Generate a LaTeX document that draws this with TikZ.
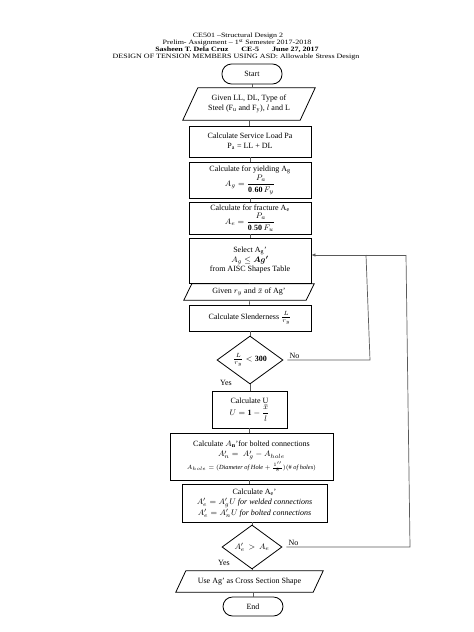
\documentclass[tikz,border=0pt]{standalone}
\usepackage{amsmath,amssymb}
\usepackage{graphicx}
\usepackage{fontspec}
\setmainfont{Liberation Serif}
\usetikzlibrary{shapes.geometric,arrows.meta,calc}
\newcommand{\squash}[1]{\scalebox{1}[0.82]{#1}}
\begin{document}
\begin{tikzpicture}[x=1pt,y=-1pt,
  txt/.style={font=\fontsize{8}{9.5}\selectfont},
  ttl/.style={font=\fontsize{8}{9}\selectfont, inner sep=0pt},
  box/.style={txt, draw=black, line width=0.8pt, rectangle, minimum width=122pt, inner sep=1pt, align=center},
  term/.style={txt, draw=black, line width=0.8pt, rounded corners=9.5pt, minimum width=60pt, minimum height=20pt, inner sep=0pt},
  io/.style={txt, rectangle, inner sep=1pt, align=center},
  iodraw/.style={draw=black, line width=0.8pt},
  dec/.style={txt, draw=black, line width=0.8pt, diamond, inner sep=0pt, align=center},
  flow/.style={draw=black!65, line width=0.7pt},
  lbl/.style={txt, inner sep=1pt}
]
\useasboundingbox (0,0) rectangle (474,632);
% titles
\node[ttl] (t1) at (238,35.5) {\squash{CE501 --Structural Design 2}};
\node[ttl] (t2) at (237,42.5) {\squash{Prelim- Assignment -- 1\textsuperscript{st} Semester 2017-2018}};
\node[ttl] (t3) at (237,49.5) {\squash{\bfseries Sasheen T. Dela Cruz\hspace{13pt}CE-5\hspace{13pt}June 27, 2017}};
\node[ttl] (t4) at (236,56.5) {\squash{DESIGN OF TENSION MEMBERS USING ASD: Allowable Stress Design}};

% nodes
\node[term] (start) at (252,74) {Start};
\node[io, minimum width=117pt, minimum height=32pt] (g1) at (249,104) {Given LL, DL, Type of\\ Steel (F$_{\mathrm{u}}$ and F$_{\mathrm{y}}$), $l$ and L};
\draw[iodraw] ([xshift=7.5pt]g1.north west) -- ([xshift=7.5pt]g1.north east) -- ([xshift=-7.5pt]g1.south east) -- ([xshift=-7.5pt]g1.south west) -- cycle;
\node[box, minimum height=31pt] (serv) at (250,141.5) {Calculate Service Load Pa\\ P$_{\mathrm{a}}$ = LL + DL};
\node[box, minimum height=36pt] (yld) at (250,180) {Calculate for yielding A$_{\mathrm{g}}$\\[1pt] $A_g = \dfrac{P_a}{\mathbf{0.60}\,F_y}$};
\node[box, minimum height=32pt] (frac) at (250,218) {Calculate for fracture A$_{\mathrm{e}}$\\[1pt] $A_e = \dfrac{P_a}{\mathbf{0.50}\,F_u}$};
\node[box, minimum height=45pt] (sel) at (250,260.5) {Select A$_{\mathrm{g}}$'\\ $A_g \leq \boldsymbol{Ag'}$\\ from AISC Shapes Table};
\node[io, minimum width=122pt, minimum height=16pt] (g2) at (249,292) {Given $r_y$ and $\bar{x}$ of Ag'};
\draw[iodraw] ([xshift=4pt]g2.north west) -- ([xshift=4pt]g2.north east) -- ([xshift=-4pt]g2.south east) -- ([xshift=-4pt]g2.south west) -- cycle;
\node[box, minimum height=26pt] (slen) at (250,318) {Calculate Slenderness $\tfrac{L}{r_y}$};
\node[dec, minimum width=66pt, minimum height=48pt] (d1) at (250,360) {$\frac{L}{r_y} < \mathbf{300}$};
\node[box, minimum width=75pt, minimum height=37pt] (uu) at (249.5,409.5) {Calculate U\\[1pt] $U = \mathbf{1} - \dfrac{\bar{x}}{l}$};
\node[box, minimum width=163pt, minimum height=47pt] (an) at (251.5,456.5) {Calculate $A_{\mathbf{n}}$'for bolted connections\\[0.5pt] $A_n' =\ A_g' - A_{hole}$\\[1pt] {\fontsize{6.3}{7.5}\selectfont $A_{hole} = (\mathit{Diameter\ of\ Hole} + \frac{1''}{8})(\mathit{\#\ of\ holes})$}};
\node[box, minimum width=145pt, minimum height=38pt] (ae) at (254.5,503) {Calculate A$_{\mathrm{e}}$'\\[0.5pt] $A_e' = A_g'U\ \mathit{for\ welded\ connections}$\\[1.5pt] $A_e' = A_n'U\ \mathit{for\ bolted\ connections}$};
\node[dec, minimum width=60pt, minimum height=44pt] (d2) at (252,547) {$A_e' \,>\, A_e$};
\node[io, minimum width=137pt, minimum height=21pt] (use) at (249.5,581.5) {Use Ag' as Cross Section Shape};
\draw[iodraw] ([xshift=5pt]use.north west) -- ([xshift=5pt]use.north east) -- ([xshift=-5pt]use.south east) -- ([xshift=-5pt]use.south west) -- cycle;
\node[term, minimum height=19pt] (end) at (253,606.5) {End};

% vertical flow
\draw[flow] (start.south) -- (start.south |- g1.north);
\draw[flow] (g1.south) -- (g1.south |- serv.north);
\draw[flow] (serv) -- (yld);
\draw[flow] (yld) -- (frac);
\draw[flow] (frac) -- (sel);
\draw[flow] (sel) -- (g2);
\draw[flow] (g2) -- (slen);
\draw[flow] (slen) -- (d1);
\draw[flow] (d1.south) -- (d1.south |- uu.north);
\draw[flow] (uu.south) -- (uu.south |- an.north);
\draw[flow] (an.south -| uu.south) -- (uu.south |- ae.north);
\draw[flow] (d2.north |- ae.south) -- (d2.north);
\draw[flow] (d2.south) -- (d2.south |- use.north);
\draw[flow] (use.south -| end.north) -- (end.north);

% loops
\coordinate (lx1) at (366,0);
\coordinate (lx2) at (406,0);
\coordinate (selin) at ([yshift=5.5pt]sel.east);
\draw[flow] ([xshift=4pt]d1.east) -- ([xshift=4pt]d1.east -| lx1) -- (lx1 |- selin);
\draw[flow] ([xshift=4pt]d2.east) -- ([xshift=4pt]d2.east -| lx2) -- (lx2 |- selin);
\draw[flow, -{Latex[length=4pt,width=3.5pt]}] (lx2 |- selin) -- (selin);

% labels
\node[lbl, anchor=south west] (no1) at ([xshift=5pt]d1.east) {No};
\node[lbl, anchor=south west] (no2) at ([xshift=5pt]d2.east) {No};
\node[lbl] (yes1) at (226,383) {Yes};
\node[lbl] (yes2) at (224,563) {Yes};
\end{tikzpicture}
\end{document}
